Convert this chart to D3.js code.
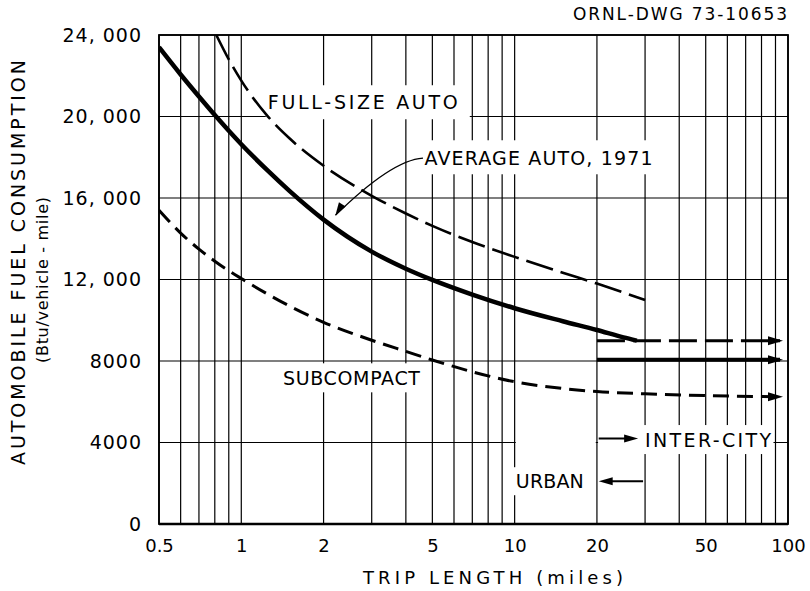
<!DOCTYPE html>
<html>
<head>
<meta charset="utf-8">
<script src="https://cdn.jsdelivr.net/npm/d3@7"></script>
<style>
  body { margin: 0; background: #fff; }
  text { font-family: "DejaVu Sans", sans-serif; fill: #000; }
</style>
</head>
<body>
<div id="chart"></div>
<script>
// Tick values and their printed labels
const xTickValues = [0.5, 1, 2, 5, 10, 20, 50, 100];
const xTickLabels = ["0.5", "1", "2", "5", "10", "20", "50", "100"];
const yTickValues = [0, 4000, 8000, 12000, 16000, 20000, 24000];
const yTickLabels = ["0", "4000", "8000", "12, 000", "16, 000", "20, 000", "24, 000"];

// Full-size auto (long dashes)
const fullSizeMiles = [0.81, 0.9, 1, 1.25, 1.5, 2, 3, 4, 5, 7, 10, 15, 20, 30];
const fullSizeBtu = [24000, 22800, 21760, 20010, 18930, 17580, 16110, 15240, 14630, 13840, 13110, 12330, 11800, 10990];

// Average auto, 1971 (heavy solid)
const averageMiles = [0.5, 0.6, 0.7, 0.8, 0.9, 1, 1.25, 1.5, 2, 3, 4, 5, 7, 10, 15, 20, 25, 28];
const averageBtu = [23400, 22060, 20980, 20070, 19300, 18640, 17340, 16350, 14940, 13370, 12530, 11980, 11260, 10590, 9950, 9520, 9160, 9000];

// Subcompact (short dashes), carried on to 100 miles
const subcompactMiles = [0.5, 0.6, 0.7, 0.8, 0.9, 1, 1.5, 2, 3, 4, 5, 7, 10, 15, 20, 30, 50, 100];
const subcompactBtu = [15400, 14280, 13490, 12900, 12430, 12050, 10700, 9900, 9020, 8470, 8050, 7470, 6980, 6650, 6500, 6390, 6300, 6240];

// Inter-city levels drawn as arrows from 20 miles on
const interCityMiles = [20, 100];
const interCityDashedBtu = [9000, 9000];
const interCitySolidBtu = [8060, 8060];

const width = 810, height = 591;
const margin = {top: 35, right: 22, bottom: 67, left: 159};

const svg = d3.select("#chart")
    .append("svg")
    .attr("width", width)
    .attr("height", height);

const x = d3.scaleLog()
    .domain([0.5, 100])
    .range([margin.left, width - margin.right]);

const y = d3.scaleLinear()
    .domain([0, 24000])
    .range([height - margin.bottom, margin.top]);

const x0 = x.range()[0], x1 = x.range()[1];
const y0 = y.range()[0], y1 = y.range()[1];

// grid lines
const gridV = svg.append("g").attr("stroke", "#000").attr("stroke-width", 1.2);
gridV.selectAll("line")
    .data(x.ticks())
    .join("line")
    .attr("x1", d => x(d)).attr("x2", d => x(d))
    .attr("y1", y0).attr("y2", y1);

const gridH = svg.append("g").attr("stroke", "#000").attr("stroke-width", 1.2);
gridH.selectAll("line")
    .data(yTickValues)
    .join("line")
    .attr("x1", x0).attr("x2", x1)
    .attr("y1", d => y(d)).attr("y2", d => y(d));

// white boxes behind the lettering (filled in once the text exists)
const boxes = svg.append("g").attr("fill", "#fff");

// frame
svg.append("rect")
    .attr("x", x0).attr("y", y1)
    .attr("width", x1 - x0).attr("height", y0 - y1)
    .attr("fill", "none").attr("stroke", "#000").attr("stroke-width", 1.8);
svg.append("line")
    .attr("x1", x0).attr("x2", x1).attr("y1", y0).attr("y2", y0)
    .attr("stroke", "#000").attr("stroke-width", 2.6);

// curves
svg.append("clipPath").attr("id", "plotClip")
    .append("rect")
    .attr("x", x0).attr("y", y1)
    .attr("width", x1 - x0 - 8).attr("height", y0 - y1);

const line = d3.line()
    .x(d => x(d[0]))
    .y(d => y(d[1]))
    .curve(d3.curveMonotoneX);

const curves = svg.append("g")
    .attr("clip-path", "url(#plotClip)")
    .attr("fill", "none")
    .attr("stroke", "#000");

curves.append("path")
    .attr("d", line(d3.zip(fullSizeMiles, fullSizeBtu)))
    .attr("stroke-width", 2.6)
    .attr("stroke-dasharray", "28,8");

curves.append("path")
    .attr("d", line(d3.zip(averageMiles, averageBtu)))
    .attr("stroke-width", 4.5);

curves.append("path")
    .attr("d", line(d3.zip(subcompactMiles, subcompactBtu)))
    .attr("stroke-width", 3)
    .attr("stroke-dasharray", "16,8");

curves.append("path")
    .attr("d", line(d3.zip(interCityMiles, interCityDashedBtu)))
    .attr("stroke-width", 3)
    .attr("stroke-dasharray", "28,8");

curves.append("path")
    .attr("d", line(d3.zip(interCityMiles, interCitySolidBtu)))
    .attr("stroke-width", 4);

// arrowheads
const arrows = svg.append("g").attr("fill", "#000");
function arrowHead(tip, from, len, half) {
    const a = Math.atan2(tip[1] - from[1], tip[0] - from[0]);
    const bx = tip[0] - len * Math.cos(a), by = tip[1] - len * Math.sin(a);
    const px = -Math.sin(a) * half, py = Math.cos(a) * half;
    arrows.append("path")
        .attr("d", `M${tip[0]},${tip[1]}L${bx + px},${by + py}L${bx - px},${by - py}Z`);
}

[interCityDashedBtu[1], interCitySolidBtu[1], subcompactBtu[subcompactBtu.length - 1]].forEach(v => {
    arrowHead([x1 - 5, y(v)], [x1 - 30, y(v)], 15, 4.5);
});

// lettering inside the plot
const notes = [
    {text: "FULL-SIZE AUTO", miles: 1.25, btu: 20700, len: 190, pad: [2, 12, 6, 6]},
    {text: "AVERAGE AUTO, 1971", miles: 4.68, btu: 17950, len: 228, pad: [5, 4, 7, 5]},
    {text: "SUBCOMPACT", miles: 1.42, btu: 7150, len: 137, pad: [3, 3, 4, 3]},
    {text: "INTER-CITY", miles: 30, btu: 4120, len: 126, pad: [47, 2, 4, 3]},
    {text: "URBAN", miles: 10.1, btu: 2100, len: 68, pad: [3, 3, 3, 3]}
];

const labels = svg.append("g").style("font-size", "19px");
notes.forEach(n => {
    const t = labels.append("text")
        .attr("x", x(n.miles))
        .attr("y", y(n.btu) + 7)
        .attr("textLength", n.len)
        .attr("lengthAdjust", "spacing")
        .text(n.text);
    const b = t.node().getBBox();
    boxes.append("rect")
        .attr("x", b.x - n.pad[0])
        .attr("y", b.y - n.pad[2])
        .attr("width", b.width + n.pad[0] + n.pad[1])
        .attr("height", b.height + n.pad[2] + n.pad[3]);
});
// break in the 4000 line between the two zone labels
boxes.append("rect")
    .attr("x", x(10.1)).attr("y", y(4000) - 2)
    .attr("width", x(19.8) - x(10.1)).attr("height", 4);

// leader from the average-auto label to its curve
const leadStart = [x(4.62), y(17960)];
const leadCtrl = [x(3.55), y(17860)];
const leadTip = [x(2.21), y(15150)];
const lp = d3.path();
lp.moveTo(leadStart[0], leadStart[1]);
lp.quadraticCurveTo(leadCtrl[0], leadCtrl[1], leadTip[0], leadTip[1]);
svg.append("path")
    .attr("d", lp.toString())
    .attr("fill", "none").attr("stroke", "#000").attr("stroke-width", 1.3);
arrowHead(leadTip, [x(2.5), y(16300)], 13, 4);

// urban / inter-city zone arrows
svg.append("line")
    .attr("x1", x(20.3)).attr("x2", x(27)).attr("y1", y(4200)).attr("y2", y(4200))
    .attr("stroke", "#000").attr("stroke-width", 2);
arrowHead([x(28.3), y(4200)], [x(20.3), y(4200)], 14, 4);
svg.append("line")
    .attr("x1", x(29.5)).attr("x2", x(21.5)).attr("y1", y(2100)).attr("y2", y(2100))
    .attr("stroke", "#000").attr("stroke-width", 2);
arrowHead([x(20.3), y(2100)], [x(29.5), y(2100)], 14, 4);

// axes
const xAxis = svg.append("g")
    .attr("transform", `translate(0,${y0})`)
    .call(d3.axisBottom(x)
        .tickValues(xTickValues)
        .tickFormat((d, i) => xTickLabels[i])
        .tickSize(0)
        .tickPadding(15));
xAxis.select(".domain").remove();
xAxis.selectAll("text")
    .style("font-size", "18px")
    .style("font-family", "'DejaVu Sans', sans-serif");

const yAxis = svg.append("g")
    .attr("transform", `translate(${x0},0)`)
    .call(d3.axisLeft(y)
        .tickValues(yTickValues)
        .tickFormat((d, i) => yTickLabels[i])
        .tickSize(0)
        .tickPadding(17));
yAxis.select(".domain").remove();
yAxis.selectAll("text")
    .style("font-size", "19px")
    .style("letter-spacing", "1px")
    .style("font-family", "'DejaVu Sans', sans-serif");

// axis titles
svg.append("text")
    .attr("x", 363).attr("y", 584)
    .attr("textLength", 260)
    .attr("lengthAdjust", "spacing")
    .style("font-size", "18px")
    .text("TRIP LENGTH (miles)");

svg.append("text")
    .attr("transform", "translate(25,465) rotate(-90)")
    .attr("textLength", 405)
    .attr("lengthAdjust", "spacing")
    .style("font-size", "19px")
    .text("AUTOMOBILE FUEL CONSUMPTION");

svg.append("text")
    .attr("transform", "translate(48,363) rotate(-90)")
    .attr("textLength", 166)
    .attr("lengthAdjust", "spacing")
    .style("font-size", "16px")
    .text("(Btu/vehicle - mile)");

svg.append("text")
    .attr("x", 573).attr("y", 20)
    .attr("textLength", 214)
    .attr("lengthAdjust", "spacing")
    .style("font-size", "17px")
    .text("ORNL-DWG 73-10653");
</script>
</body>
</html>
